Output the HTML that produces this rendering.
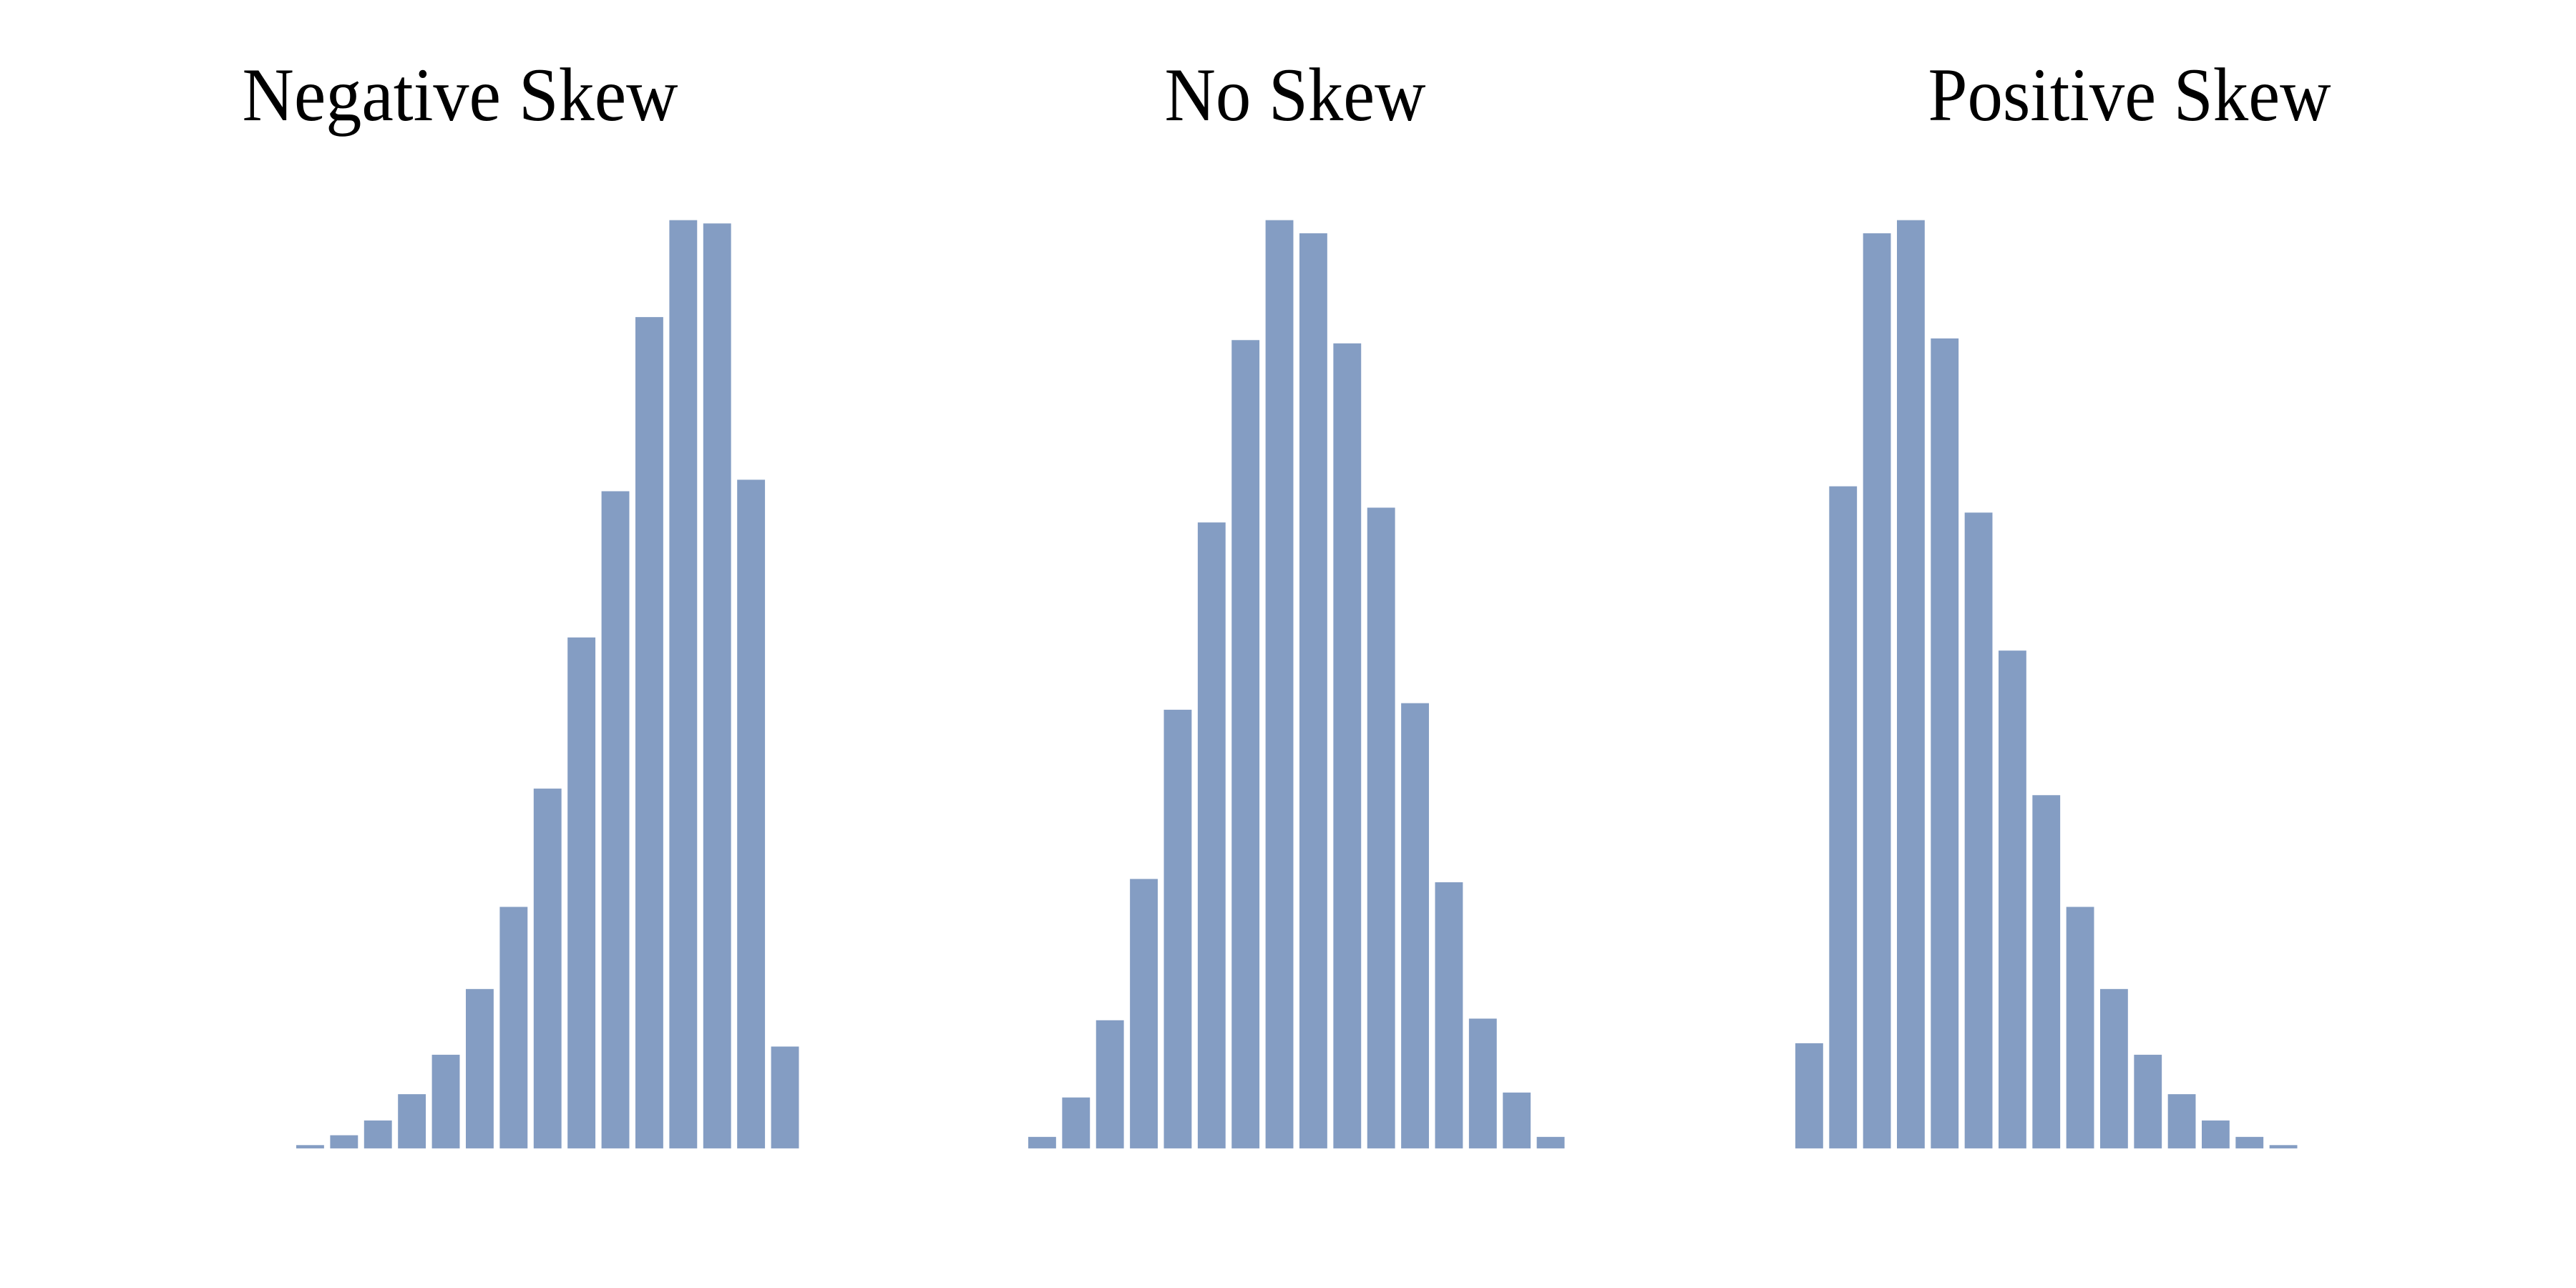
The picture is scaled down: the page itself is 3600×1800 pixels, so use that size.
<!DOCTYPE html>
<html><head><meta charset="utf-8"><style>
html,body{margin:0;padding:0;background:#fff;}
svg{display:block;}
text{font-family:"Liberation Serif",serif;fill:#000;}
</style></head><body>
<svg id="chart" width="3600" height="1800" viewBox="0 0 3600 1800"></svg>
<script>
const titles = ["Negative Skew", "No Skew", "Positive Skew"];
const negativeValues = [2,8,17,33,57,97,147,219,311,400,506,565,563,407,62];
const noSkewValues = [7,31,78,164,267,381,492,565,557,490,390,271,162,79,34,7];
const positiveValues = [64,403,557,565,493,387,303,215,147,97,57,33,17,7,2];
const series = [negativeValues, noSkewValues, positiveValues];

const svg = document.getElementById('chart');
const NS = 'http://www.w3.org/2000/svg';
const S = 2.296;
const panels = [
  {x0: 414, x1: 1125, cx: 643, tw: 609},
  {x0: 1437, x1: 2195, cx: 1810, tw: 365},
  {x0: 2509, x1: 3219, cx: 2976, tw: 563}
];
const baseY = 699 * S;
const maxVal = 565;
const plotH = 565 * S;
function yScale(v){ return baseY - v / maxVal * plotH; }

series.forEach((vals, p) => {
  const pn = panels[p];
  const g = document.createElementNS(NS, 'g');
  
  
  svg.appendChild(g);
  const t = document.createElementNS(NS, 'text');
  
  
  t.setAttribute('x', pn.cx);
  t.setAttribute('y', 168);
  t.setAttribute('text-anchor', 'middle');
  t.setAttribute('font-size', '106');
  t.setAttribute('textLength', pn.tw);
  t.setAttribute('lengthAdjust', 'spacingAndGlyphs');
  t.textContent = titles[p];
  g.appendChild(t);
  const pitch = (pn.x1 - pn.x0) / vals.length;
  const bw = pitch * 0.82;
  vals.forEach((v, i) => {
    const r = document.createElementNS(NS, 'rect');
    
    
    const y = yScale(v);
    r.setAttribute('x', pn.x0 + i * pitch);
    r.setAttribute('y', y);
    r.setAttribute('width', bw);
    r.setAttribute('height', baseY - y);
    r.setAttribute('fill', '#849dc3');
    g.appendChild(r);
  });
});
</script>
</body></html>
